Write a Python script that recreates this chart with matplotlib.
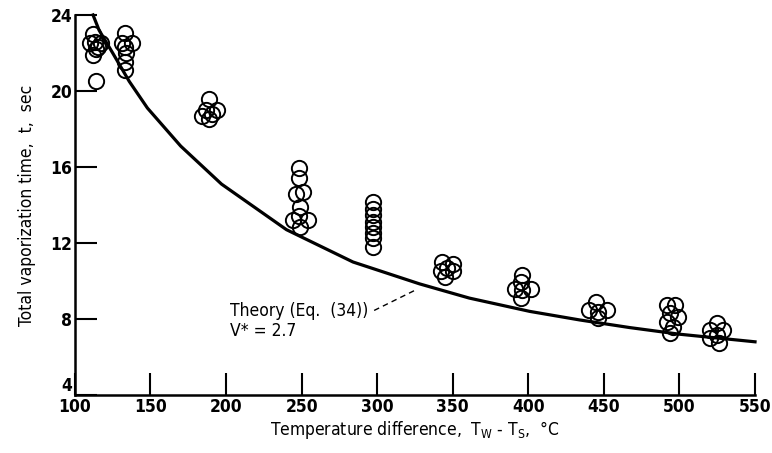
import numpy as np
import matplotlib.pyplot as plt
from matplotlib import font_manager

plt.rcParams['font.family'] = ['DejaVu Sans']
plt.rcParams['font.stretch'] = 'condensed'
plt.rcParams['mathtext.fontset'] = 'dejavusans'

# theory curve, Eq. (34) with V* = 2.7
theory_dT = [112, 116, 125, 136, 148, 170, 197, 240, 284, 328, 361, 401, 434, 467, 500, 550]
theory_t = [24.0, 23.2, 22.0, 20.5, 19.1, 17.1, 15.1, 12.7, 11.0, 9.85, 9.1, 8.4, 7.95, 7.55, 7.2, 6.8]

# measured vaporization times, grouped by temperature difference
dT_a = [112, 113, 110, 117, 114, 112, 115, 114]
t_a = [23.0, 22.6, 22.5, 22.5, 22.2, 21.9, 22.3, 20.5]
dT_b = [133, 131, 138, 133, 134, 133, 133]
t_b = [23.05, 22.5, 22.5, 22.3, 22.0, 21.5, 21.1]
dT_c = [189, 187, 184, 191, 189, 194]
t_c = [19.6, 19.0, 18.7, 18.8, 18.5, 19.0]
dT_d = [248, 248, 246, 251, 249, 244, 254, 249, 248]
t_d = [15.95, 15.4, 14.6, 14.7, 13.9, 13.2, 13.2, 12.85, 13.4]
dT_e = [297, 297, 297, 297, 297, 297, 297, 297]
t_e = [14.15, 13.8, 13.45, 13.1, 12.85, 12.5, 12.25, 11.8]
dT_f = [343, 350, 342, 350, 345, 346]
t_f = [11.0, 10.9, 10.5, 10.5, 10.2, 10.7]
dT_g = [396, 395, 391, 402, 396, 395]
t_g = [10.3, 9.95, 9.6, 9.6, 9.5, 9.1]
dT_h = [445, 440, 452, 446, 446]
t_h = [8.9, 8.45, 8.45, 8.35, 8.05]
dT_i = [492, 497, 494, 499, 492, 496, 494]
t_i = [8.75, 8.75, 8.3, 8.1, 7.85, 7.6, 7.25]
dT_j = [525, 520, 529, 525, 520, 526]
t_j = [7.8, 7.4, 7.4, 7.15, 7.0, 6.75]

x_ticks = [100, 150, 200, 250, 300, 350, 400, 450, 500, 550]
y_ticks = [4, 8, 12, 16, 20, 24]

data_dT = dT_a + dT_b + dT_c + dT_d + dT_e + dT_f + dT_g + dT_h + dT_i + dT_j
data_t = t_a + t_b + t_c + t_d + t_e + t_f + t_g + t_h + t_i + t_j

fig = plt.figure(figsize=(7.72, 4.53), dpi=100)
ax = fig.add_axes([0.097, 0.128, 0.881, 0.839])

ax.plot(data_dT, data_t, 'o', ms=11, mfc='none', mec='black', mew=1.4, clip_on=False)
ax.plot(theory_dT, theory_t, '-', color='black', lw=2.3, clip_on=False)

# label for the theory curve with its dashed leader
ax.text(202.6, 8.42, 'Theory (Eq.  (34))', fontsize=12.5, va='center', ha='left')
ax.text(202.6, 7.35, 'V* = 2.7', fontsize=12.5, va='center', ha='left')
ax.plot([298, 326], [8.45, 9.55], '--', color='black', lw=1.0, dashes=(4, 3))

ax.set_xlim(100, 550)
ax.set_ylim(4, 24)
ax.set_xticks(x_ticks)
ax.set_yticks(y_ticks)
ax.tick_params(direction='in', length=16, width=1.5, labelsize=12.5, pad=2)
for lab in ax.get_xticklabels() + ax.get_yticklabels():
    lab.set_fontweight('bold')
# the corner "4" sits a little above the "100"
ax.get_yticklabels()[0].set_va('bottom')
ax.spines['top'].set_visible(False)
ax.spines['right'].set_visible(False)
ax.spines['left'].set_linewidth(1.8)
ax.spines['bottom'].set_linewidth(1.8)

ax.set_xlabel(r'Temperature difference,  T$_{\mathrm{W}}$ - T$_{\mathrm{S}}$,  °C', fontsize=12.5, labelpad=2)
ax.set_ylabel('Total vaporization time,  t,  sec', fontsize=12.5, labelpad=10)

plt.savefig('out.png', dpi=100)
